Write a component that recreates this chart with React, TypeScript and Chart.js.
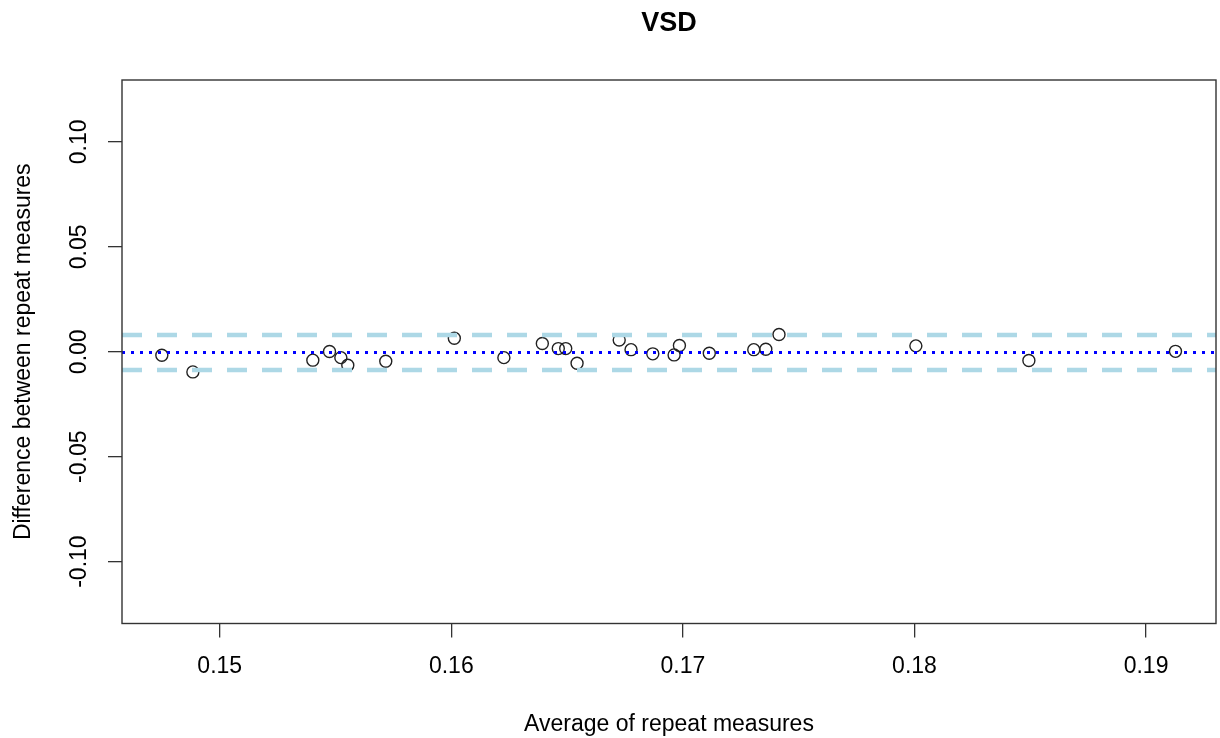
import { useEffect, useRef } from "react";
import { Chart, registerables } from "chart.js";

Chart.register(...registerables);

// Bland-Altman style data: average vs difference of repeat measures
const averages = [
  0.1475, 0.14884, 0.15402, 0.15474, 0.15523, 0.15553, 0.15717, 0.16013,
  0.16227, 0.16393, 0.16462, 0.16494, 0.16543, 0.16725, 0.16776, 0.1687,
  0.16962, 0.16985, 0.17114, 0.17306, 0.17358, 0.17415, 0.18006, 0.18494,
  0.19127,
];
const differences = [
  -0.0017, -0.0096, -0.004, 0.0001, -0.0028, -0.0064, -0.0045, 0.0064,
  -0.0028, 0.0039, 0.0015, 0.0015, -0.0055, 0.0056, 0.001, -0.001,
  -0.0015, 0.003, -0.0007, 0.001, 0.0012, 0.0082, 0.0028, -0.0042,
  0.0002,
];

const meanDiff = -0.0003;
const upperLimit = 0.008;
const lowerLimit = -0.0087;

const xMin = 0.14578;
const xMax = 0.19302;
const yMin = -0.1295;
const yMax = 0.1295;

const xTicks = [0.15, 0.16, 0.17, 0.18, 0.19];
const xTickLabels = ["0.15", "0.16", "0.17", "0.18", "0.19"];
const yTicks = [-0.1, -0.05, 0, 0.05, 0.1];
const yTickLabels = ["-0.10", "-0.05", "0.00", "0.05", "0.10"];

const titleText = "VSD";
const xTitle = "Average of repeat measures";
const yTitle = "Difference between repeat measures";

const FONT = "'Liberation Sans', Arial, Helvetica, sans-serif";

export default function App() {
  const canvasRef = useRef<HTMLCanvasElement | null>(null);

  useEffect(() => {
    const canvas = canvasRef.current;
    if (!canvas) return;

    const hline = (y: number) => [
      { x: xMin, y },
      { x: xMax, y },
    ];

    const boxPlugin = {
      id: "rbox",
      afterDraw(chart: any) {
        const { ctx, chartArea } = chart;
        ctx.save();
        ctx.strokeStyle = "#333333";
        ctx.lineWidth = 1.4;
        ctx.strokeRect(
          chartArea.left,
          chartArea.top,
          chartArea.right - chartArea.left,
          chartArea.bottom - chartArea.top
        );
        ctx.restore();
      },
    };

    const chart = new Chart(canvas, {
      type: "scatter",
      data: {
        datasets: [
          {
            label: "mean",
            data: hline(meanDiff),
            showLine: true,
            borderColor: "#0000FF",
            borderWidth: 3,
            borderDash: [3, 6],
            pointRadius: 0,
            fill: false,
          },
          {
            label: "upper",
            data: hline(upperLimit),
            showLine: true,
            borderColor: "#ADD8E6",
            borderWidth: 4.5,
            borderDash: [20, 15],
            pointRadius: 0,
            fill: false,
          },
          {
            label: "lower",
            data: hline(lowerLimit),
            showLine: true,
            borderColor: "#ADD8E6",
            borderWidth: 4.5,
            borderDash: [20, 15],
            pointRadius: 0,
            fill: false,
          },
          {
            label: "points",
            data: averages.map((a, i) => ({ x: a, y: differences[i] })),
            showLine: false,
            pointRadius: 6,
            pointBorderWidth: 1.4,
            pointBorderColor: "#222222",
            pointBackgroundColor: "rgba(0,0,0,0)",
          },
        ],
      },
      options: {
        responsive: false,
        animation: false,
        devicePixelRatio: 1,
        layout: {
          autoPadding: false,
          padding: { top: 0, right: 4, bottom: 0, left: 0 },
        },
        plugins: {
          legend: { display: false },
          tooltip: { enabled: false },
          title: {
            display: true,
            text: titleText,
            fullSize: false,
            color: "#000000",
            font: { family: FONT, size: 27, weight: "bold" },
            padding: { top: 7, bottom: 40.6 },
          },
        },
        scales: {
          x: {
            type: "linear",
            min: xMin,
            max: xMax,
            afterBuildTicks: (s: any) => {
              s.ticks = xTicks.map((v) => ({ value: v }));
            },
            afterFit: (s: any) => {
              s.height = 114.5;
              s.paddingLeft = 0;
              s.paddingRight = 0;
            },
            ticks: {
              autoSkip: false,
              maxRotation: 0,
              padding: 15,
              color: "#000000",
              font: { family: FONT, size: 23 },
              callback: (_v: any, i: number) => xTickLabels[i],
            },
            grid: {
              drawOnChartArea: false,
              drawTicks: true,
              tickLength: 14,
              color: "#333333",
              lineWidth: 1.3,
            },
            border: { display: false },
            title: {
              display: true,
              text: xTitle,
              color: "#000000",
              font: { family: FONT, size: 23 },
              padding: { top: 0, bottom: 0 },
            },
          },
          y: {
            type: "linear",
            min: yMin,
            max: yMax,
            afterBuildTicks: (s: any) => {
              s.ticks = yTicks.map((v) => ({ value: v }));
            },
            afterFit: (s: any) => {
              s.width = 122;
              s.paddingTop = 0;
              s.paddingBottom = 0;
            },
            ticks: {
              autoSkip: false,
              minRotation: 90,
              maxRotation: 90,
              crossAlign: "center",
              padding: 2,
              color: "#000000",
              font: { family: FONT, size: 23 },
              callback: (_v: any, i: number) => yTickLabels[i],
            },
            grid: {
              drawOnChartArea: false,
              drawTicks: true,
              tickLength: 14,
              color: "#333333",
              lineWidth: 1.3,
            },
            border: { display: false },
            title: {
              display: true,
              text: yTitle,
              color: "#000000",
              font: { family: FONT, size: 23 },
              padding: { top: 10, bottom: 0 },
            },
          },
        },
      },
      plugins: [boxPlugin],
    } as any);

    return () => chart.destroy();
  }, []);

  return (
    <div
      style={{
        position: "fixed",
        left: 0,
        top: 0,
        width: 1220,
        height: 738,
        background: "#ffffff",
      }}
    >
      <canvas
        ref={canvasRef}
        width={1220}
        height={738}
        style={{ width: 1220, height: 738, display: "block" }}
      />
    </div>
  );
}
